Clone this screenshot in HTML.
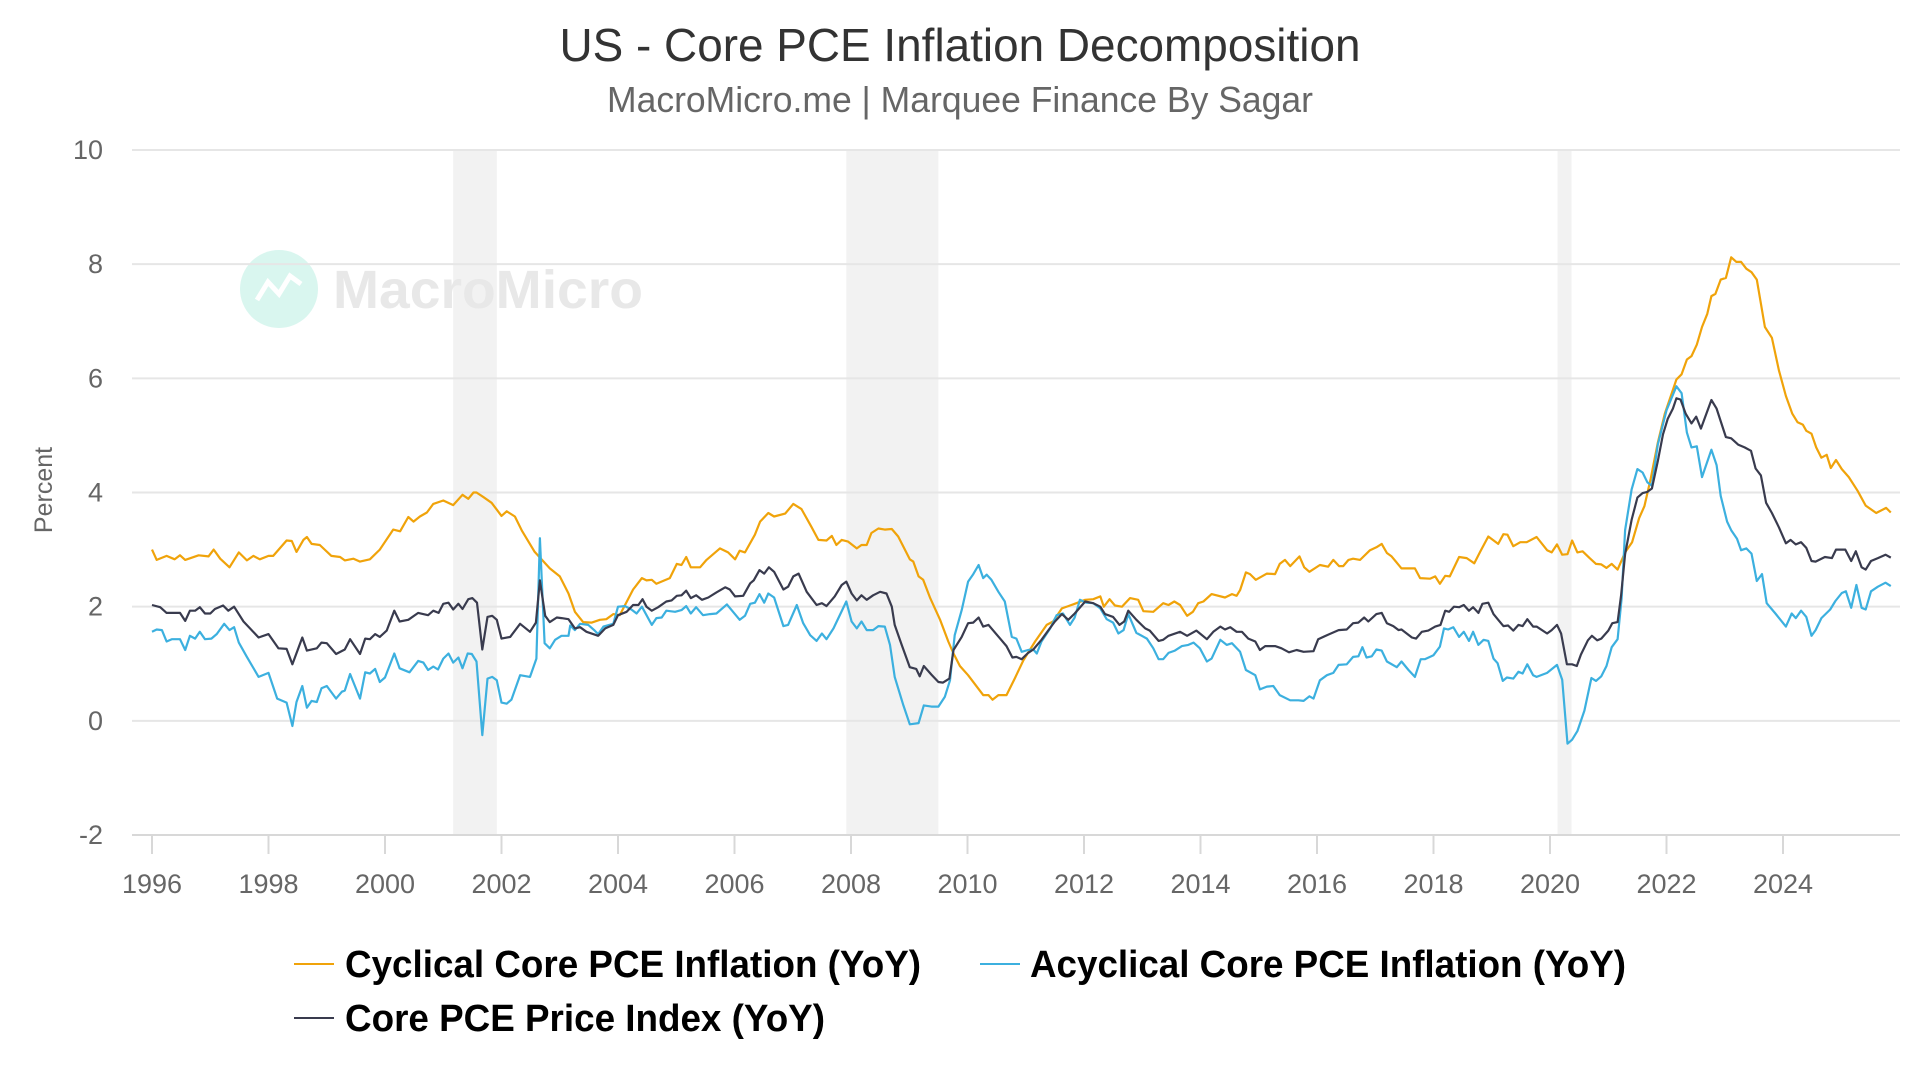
<!DOCTYPE html>
<html><head><meta charset="utf-8"><style>
html,body{margin:0;padding:0;background:#fff;width:1920px;height:1080px;overflow:hidden}
svg{display:block;font-family:"Liberation Sans",sans-serif}
</style></head><body>
<svg id="chart" width="1920" height="1080" viewBox="0 0 1920 1080" xmlns="http://www.w3.org/2000/svg">
<text x="960" y="61" text-anchor="middle" font-size="46" fill="#333" textLength="801" lengthAdjust="spacingAndGlyphs">US - Core PCE Inflation Decomposition</text>
<text x="960" y="112" text-anchor="middle" font-size="36" fill="#666" textLength="706" lengthAdjust="spacingAndGlyphs">MacroMicro.me | Marquee Finance By Sagar</text>
<g id="bands"></g>
<g>
<circle cx="279" cy="289" r="39" fill="#d9f6ef"/>
<polyline points="257,300 268,282 279,294 290,276 301,284" fill="none" stroke="#fff" stroke-width="5"/>
<text x="333" y="308" font-size="54" font-weight="bold" fill="#e8e8e8" textLength="310" lengthAdjust="spacingAndGlyphs">MacroMicro</text>
</g>
<g id="grid"></g>
<g id="xaxis"></g>
<g id="yaxis"></g>
<text transform="translate(52,490) rotate(-90)" text-anchor="middle" font-size="25" fill="#666">Percent</text>
<g id="series"></g>
<g>
<g><line x1="294" y1="964" x2="334" y2="964" stroke="#f0a30a" stroke-width="2"/><text x="345" y="977" font-size="38" font-weight="bold" fill="#000" textLength="576" lengthAdjust="spacingAndGlyphs">Cyclical Core PCE Inflation (YoY)</text></g>
<g><line x1="980" y1="964" x2="1020" y2="964" stroke="#3cb0df" stroke-width="2"/><text x="1030" y="977" font-size="38" font-weight="bold" fill="#000" textLength="596" lengthAdjust="spacingAndGlyphs">Acyclical Core PCE Inflation (YoY)</text></g>
<g><line x1="294" y1="1018" x2="334" y2="1018" stroke="#393b4e" stroke-width="2"/><text x="345" y="1031" font-size="38" font-weight="bold" fill="#000" textLength="480" lengthAdjust="spacingAndGlyphs">Core PCE Price Index (YoY)</text></g>
</g>
</svg>
<script>
const yTicks=[-2,0,2,4,6,8,10];
const yTickLabels=["-2","0","2","4","6","8","10"];
const xTicks=[1996,1998,2000,2002,2004,2006,2008,2010,2012,2014,2016,2018,2020,2022,2024];
const xTickLabels=["1996","1998","2000","2002","2004","2006","2008","2010","2012","2014","2016","2018","2020","2022","2024"];
const recessionStarts=[2001.17,2007.92,2020.13];
const recessionEnds=[2001.92,2009.5,2020.37];
const cycDates=[1996.00,1996.08,1996.25,1996.39,1996.48,1996.57,1996.80,1996.97,1997.06,1997.17,1997.33,1997.49,1997.63,1997.74,1997.85,1998.00,1998.08,1998.31,1998.40,1998.48,1998.60,1998.66,1998.74,1998.88,1999.08,1999.23,1999.31,1999.46,1999.57,1999.74,1999.91,2000.14,2000.26,2000.40,2000.49,2000.60,2000.72,2000.83,2001.00,2001.17,2001.33,2001.43,2001.52,2001.57,2001.69,2001.83,2002.00,2002.09,2002.23,2002.35,2002.57,2002.83,2003.00,2003.15,2003.26,2003.40,2003.55,2003.69,2003.80,2003.92,2004.03,
2004.26,2004.41,2004.49,2004.58,2004.66,2004.89,2005.01,2005.09,2005.17,2005.25,2005.41,2005.52,2005.75,2005.89,2006.01,2006.09,2006.18,2006.35,2006.44,2006.58,2006.68,2006.87,2007.01,2007.15,2007.32,2007.44,2007.58,2007.67,2007.75,2007.84,2007.95,2008.10,2008.18,2008.27,2008.35,2008.47,2008.58,2008.70,2008.81,2009.01,2009.07,2009.16,2009.24,2009.36,2009.53,2009.67,2009.76,2009.87,2010.01,2010.27,2010.36,2010.43,2010.53,2010.67,2010.81,2010.96,2011.16,2011.36,2011.47,2011.62,2011.73,2011.84,2012.02,2012.16,
2012.28,2012.34,2012.44,2012.53,2012.65,2012.79,2012.93,2013.02,2013.19,2013.36,2013.45,2013.55,2013.65,2013.77,2013.87,2013.96,2014.05,2014.19,2014.42,2014.54,2014.62,2014.68,2014.78,2014.85,2014.95,2015.14,2015.28,2015.36,2015.45,2015.54,2015.70,2015.78,2015.87,2016.05,2016.19,2016.28,2016.38,2016.45,2016.54,2016.62,2016.74,2016.91,2017.02,2017.11,2017.20,2017.28,2017.45,2017.68,2017.77,2017.94,2018.03,2018.11,2018.20,2018.28,2018.44,2018.57,2018.70,2018.80,2018.94,2019.11,2019.20,2019.27,2019.37,2019.49,2019.60,2019.77,
2019.95,2020.03,2020.12,2020.21,2020.30,2020.38,2020.47,2020.56,2020.68,2020.79,2020.88,2020.97,2021.06,2021.16,2021.29,2021.41,2021.53,2021.62,2021.73,2021.85,2021.97,2022.08,2022.17,2022.26,2022.35,2022.43,2022.52,2022.61,2022.70,2022.77,2022.84,2022.93,2023.02,2023.11,2023.20,2023.28,2023.37,2023.46,2023.55,2023.69,2023.81,2023.93,2024.05,2024.16,2024.25,2024.34,2024.40,2024.49,2024.57,2024.66,2024.75,2024.82,2024.91,2025.01,2025.13,2025.28,2025.42,2025.60,2025.77,2025.85];
const cycVals=[3.0,2.82,2.89,2.83,2.9,2.82,2.9,2.88,3.0,2.84,2.69,2.95,2.81,2.89,2.83,2.89,2.89,3.16,3.15,2.96,3.17,3.22,3.1,3.08,2.89,2.87,2.81,2.84,2.79,2.83,3.0,3.35,3.32,3.57,3.49,3.58,3.65,3.8,3.86,3.78,3.96,3.89,4.0,4.0,3.92,3.82,3.59,3.67,3.58,3.33,2.96,2.67,2.53,2.23,1.91,1.73,1.72,1.77,1.78,1.87,1.85,
2.3,2.5,2.46,2.47,2.4,2.5,2.75,2.73,2.87,2.69,2.69,2.82,3.02,2.95,2.83,2.98,2.95,3.26,3.49,3.64,3.58,3.63,3.8,3.71,3.4,3.17,3.16,3.24,3.08,3.17,3.14,3.02,3.08,3.08,3.29,3.37,3.35,3.36,3.23,2.83,2.79,2.53,2.47,2.15,1.77,1.39,1.18,0.96,0.8,0.45,0.45,0.37,0.45,0.45,0.74,1.06,1.39,1.68,1.74,1.97,2.01,2.05,2.12,2.13,
2.18,2.0,2.13,2.02,2.0,2.15,2.12,1.92,1.91,2.06,2.03,2.09,2.03,1.84,1.91,2.06,2.09,2.22,2.16,2.22,2.19,2.29,2.6,2.57,2.47,2.58,2.57,2.75,2.82,2.71,2.88,2.69,2.61,2.73,2.7,2.82,2.71,2.71,2.82,2.84,2.82,2.99,3.04,3.1,2.94,2.88,2.67,2.67,2.5,2.49,2.53,2.4,2.54,2.53,2.87,2.85,2.76,2.96,3.23,3.1,3.27,3.26,3.06,3.13,3.13,3.22,
2.99,2.95,3.09,2.91,2.92,3.16,2.95,2.97,2.85,2.75,2.74,2.68,2.75,2.65,2.95,3.13,3.55,3.76,4.25,4.87,5.38,5.71,5.98,6.07,6.33,6.39,6.59,6.9,7.13,7.44,7.48,7.73,7.76,8.12,8.04,8.04,7.92,7.86,7.73,6.9,6.71,6.14,5.69,5.38,5.23,5.19,5.08,5.03,4.79,4.61,4.66,4.43,4.57,4.41,4.27,4.03,3.77,3.64,3.73,3.65];
const acycDates=[1996.00,1996.08,1996.17,1996.25,1996.34,1996.48,1996.57,1996.65,1996.74,1996.82,1996.91,1997.02,1997.11,1997.24,1997.33,1997.41,1997.49,1997.63,1997.83,1998.00,1998.15,1998.31,1998.41,1998.48,1998.58,1998.66,1998.74,1998.83,1998.91,1999.00,1999.16,1999.26,1999.31,1999.40,1999.57,1999.66,1999.74,1999.83,1999.91,2000.00,2000.16,2000.25,2000.42,2000.57,2000.66,2000.74,2000.83,2000.91,2001.00,2001.09,2001.17,2001.26,2001.33,2001.42,2001.49,2001.57,2001.67,2001.76,2001.84,2001.92,2002.00,2002.09,2002.17,2002.32,2002.49,2002.60,2002.66,2002.74,2002.83,2002.92,2003.03,2003.15,2003.18,2003.26,2003.35,2003.49,2003.60,2003.66,2003.75,2003.92,2004.00,
2004.12,2004.23,2004.32,2004.41,2004.58,2004.66,2004.75,2004.83,2004.98,2005.09,2005.17,2005.25,2005.34,2005.46,2005.58,2005.69,2005.87,2006.09,2006.18,2006.27,2006.35,2006.43,2006.51,2006.58,2006.68,2006.84,2006.92,2007.07,2007.18,2007.30,2007.41,2007.50,2007.58,2007.70,2007.92,2008.01,2008.10,2008.18,2008.27,2008.38,2008.47,2008.58,2008.67,2008.75,2008.90,2009.01,2009.16,2009.25,2009.38,2009.50,2009.61,2009.70,2009.78,2009.90,2010.01,2010.10,2010.19,2010.27,2010.33,2010.41,2010.53,2010.64,2010.76,2010.84,2010.93,2011.04,2011.13,2011.19,2011.27,2011.42,2011.53,2011.64,2011.76,2011.84,2011.93,2012.04,2012.16,
2012.28,2012.39,2012.50,2012.59,2012.68,2012.76,2012.90,2013.08,2013.19,2013.28,2013.36,2013.45,2013.56,2013.68,2013.79,2013.88,2013.99,2014.11,2014.19,2014.34,2014.45,2014.54,2014.68,2014.78,2014.94,2015.02,2015.14,2015.25,2015.36,2015.54,2015.68,2015.77,2015.87,2015.94,2016.05,2016.17,2016.28,2016.37,2016.51,2016.62,2016.71,2016.78,2016.85,2016.94,2017.02,2017.11,2017.20,2017.37,2017.45,2017.57,2017.68,2017.78,2017.85,2018.00,2018.11,2018.18,2018.25,2018.34,2018.44,2018.52,2018.61,2018.68,2018.77,2018.86,2018.94,2019.03,2019.10,2019.19,2019.26,2019.37,2019.46,2019.53,2019.61,2019.71,2019.77,
2019.95,2020.12,2020.21,2020.30,2020.38,2020.47,2020.59,2020.71,2020.79,2020.88,2020.97,2021.06,2021.16,2021.23,2021.29,2021.40,2021.50,2021.59,2021.67,2021.75,2021.85,2022.00,2022.17,2022.26,2022.35,2022.43,2022.52,2022.61,2022.77,2022.86,2022.93,2023.04,2023.11,2023.21,2023.28,2023.37,2023.46,2023.55,2023.64,2023.72,2023.87,2024.05,2024.15,2024.22,2024.31,2024.40,2024.49,2024.56,2024.66,2024.81,2024.90,2025.01,2025.08,2025.17,2025.26,2025.35,2025.42,2025.51,2025.63,2025.76,2025.85];
const acycVals=[1.56,1.6,1.59,1.39,1.43,1.43,1.24,1.49,1.44,1.56,1.43,1.44,1.52,1.7,1.59,1.64,1.37,1.12,0.77,0.84,0.39,0.32,-0.09,0.33,0.61,0.23,0.35,0.33,0.57,0.61,0.39,0.51,0.53,0.82,0.39,0.85,0.83,0.91,0.68,0.76,1.18,0.92,0.85,1.05,1.02,0.89,0.95,0.9,1.09,1.18,1.02,1.11,0.92,1.18,1.17,1.04,-0.25,0.74,0.77,0.71,0.32,0.3,0.37,0.8,0.77,1.09,3.2,1.36,1.27,1.42,1.49,1.49,1.67,1.59,1.7,1.68,1.58,1.52,1.65,1.7,2.0,
2.01,1.95,1.88,2.0,1.68,1.8,1.81,1.93,1.91,1.94,2.01,1.88,1.99,1.85,1.87,1.88,2.04,1.77,1.84,2.05,2.07,2.22,2.07,2.23,2.16,1.66,1.68,2.03,1.71,1.5,1.4,1.53,1.43,1.62,2.09,1.74,1.62,1.74,1.59,1.59,1.66,1.65,1.33,0.77,0.27,-0.06,-0.04,0.27,0.25,0.25,0.42,0.71,1.5,1.94,2.44,2.57,2.73,2.5,2.56,2.47,2.26,2.09,1.47,1.44,1.21,1.24,1.25,1.18,1.39,1.62,1.85,1.88,1.68,1.81,2.12,2.07,2.06,
1.97,1.78,1.72,1.53,1.59,1.87,1.54,1.44,1.27,1.08,1.08,1.19,1.23,1.31,1.33,1.37,1.27,1.04,1.09,1.42,1.33,1.36,1.21,0.89,0.8,0.55,0.6,0.61,0.45,0.36,0.36,0.35,0.43,0.39,0.71,0.8,0.84,0.98,0.99,1.12,1.13,1.29,1.11,1.13,1.25,1.23,1.04,0.94,1.04,0.89,0.77,1.08,1.08,1.15,1.3,1.62,1.6,1.64,1.47,1.56,1.4,1.56,1.33,1.42,1.4,1.09,1.01,0.7,0.76,0.74,0.86,0.83,0.99,0.8,0.77,
0.84,0.98,0.72,-0.4,-0.33,-0.18,0.18,0.75,0.7,0.78,0.96,1.29,1.43,2.14,3.34,4.05,4.41,4.35,4.18,4.12,4.84,5.44,5.86,5.74,5.05,4.79,4.81,4.27,4.75,4.48,3.94,3.49,3.34,3.19,2.99,3.02,2.93,2.45,2.57,2.06,1.88,1.65,1.88,1.8,1.93,1.82,1.49,1.59,1.8,1.95,2.1,2.24,2.27,1.98,2.38,1.98,1.95,2.27,2.35,2.42,2.36];
const coreDates=[1996.00,1996.14,1996.25,1996.48,1996.57,1996.65,1996.74,1996.82,1996.91,1997.00,1997.08,1997.22,1997.31,1997.41,1997.57,1997.83,1998.00,1998.17,1998.31,1998.41,1998.58,1998.66,1998.83,1998.91,1999.00,1999.16,1999.31,1999.40,1999.57,1999.66,1999.74,1999.83,1999.91,2000.03,2000.16,2000.25,2000.40,2000.57,2000.74,2000.83,2000.92,2001.00,2001.09,2001.17,2001.26,2001.33,2001.43,2001.50,2001.58,2001.67,2001.76,2001.84,2001.92,2002.00,2002.15,2002.32,2002.49,2002.59,2002.66,2002.75,2002.83,2002.95,2003.03,2003.15,2003.26,2003.35,2003.46,2003.66,2003.78,2003.92,2004.00,
2004.15,2004.26,2004.35,2004.42,2004.49,2004.58,2004.69,2004.83,2004.92,2005.01,2005.09,2005.17,2005.25,2005.34,2005.44,2005.55,2005.69,2005.84,2005.92,2006.01,2006.15,2006.27,2006.33,2006.43,2006.51,2006.59,2006.68,2006.84,2006.92,2007.01,2007.10,2007.24,2007.41,2007.50,2007.58,2007.72,2007.84,2007.92,2008.01,2008.10,2008.18,2008.27,2008.38,2008.50,2008.61,2008.70,2008.75,2008.87,2009.01,2009.12,2009.18,2009.25,2009.38,2009.50,2009.58,2009.69,2009.76,2009.90,2010.01,2010.10,2010.19,2010.27,2010.36,2010.56,2010.67,2010.77,2010.84,2010.93,2011.04,2011.13,2011.27,2011.39,2011.50,2011.62,2011.73,2011.84,2012.02,2012.16,
2012.28,2012.36,2012.50,2012.61,2012.69,2012.76,2012.90,2013.05,2013.13,2013.28,2013.36,2013.45,2013.65,2013.77,2013.93,2014.11,2014.22,2014.34,2014.42,2014.51,2014.62,2014.71,2014.82,2014.94,2015.02,2015.11,2015.28,2015.39,2015.52,2015.65,2015.77,2015.94,2016.02,2016.17,2016.37,2016.51,2016.62,2016.71,2016.81,2016.88,2017.02,2017.11,2017.20,2017.31,2017.40,2017.45,2017.63,2017.70,2017.80,2017.91,2018.03,2018.12,2018.20,2018.27,2018.35,2018.44,2018.52,2018.61,2018.68,2018.77,2018.84,2018.94,2019.03,2019.11,2019.20,2019.28,2019.37,2019.46,2019.53,2019.61,2019.71,2019.77,
2019.95,2020.03,2020.12,2020.19,2020.29,2020.38,2020.46,2020.53,2020.65,2020.72,2020.81,2020.88,2021.00,2021.07,2021.16,2021.22,2021.29,2021.40,2021.50,2021.59,2021.67,2021.75,2021.85,2021.94,2022.02,2022.11,2022.17,2022.24,2022.33,2022.43,2022.51,2022.59,2022.77,2022.86,2023.02,2023.11,2023.23,2023.34,2023.45,2023.53,2023.62,2023.71,2023.81,2023.93,2024.05,2024.13,2024.22,2024.31,2024.40,2024.49,2024.56,2024.72,2024.84,2024.91,2025.07,2025.17,2025.25,2025.35,2025.42,2025.51,2025.63,2025.76,2025.85];
const coreVals=[2.03,1.99,1.89,1.89,1.75,1.93,1.93,1.99,1.88,1.88,1.96,2.02,1.93,2.0,1.74,1.46,1.52,1.27,1.26,0.99,1.46,1.23,1.27,1.37,1.36,1.17,1.25,1.43,1.17,1.44,1.43,1.52,1.47,1.58,1.93,1.74,1.77,1.89,1.85,1.93,1.89,2.05,2.07,1.95,2.05,1.96,2.13,2.15,2.07,1.25,1.82,1.84,1.77,1.44,1.47,1.7,1.56,1.72,2.46,1.84,1.73,1.81,1.8,1.78,1.62,1.64,1.56,1.49,1.62,1.68,1.85,
1.91,2.03,2.03,2.13,2.0,1.93,1.99,2.09,2.11,2.19,2.2,2.28,2.15,2.2,2.12,2.16,2.25,2.34,2.3,2.18,2.19,2.41,2.46,2.64,2.58,2.69,2.61,2.3,2.35,2.53,2.58,2.26,2.03,2.06,2.01,2.18,2.38,2.44,2.23,2.11,2.2,2.12,2.2,2.26,2.23,2.0,1.68,1.33,0.94,0.91,0.78,0.96,0.81,0.68,0.67,0.74,1.24,1.47,1.71,1.72,1.81,1.65,1.68,1.44,1.31,1.11,1.12,1.08,1.19,1.25,1.42,1.59,1.74,1.87,1.77,1.88,2.09,2.06,
2.0,1.87,1.82,1.68,1.74,1.93,1.77,1.62,1.58,1.4,1.42,1.49,1.56,1.49,1.58,1.43,1.56,1.65,1.6,1.64,1.56,1.56,1.44,1.39,1.24,1.31,1.31,1.27,1.2,1.24,1.21,1.22,1.43,1.5,1.59,1.6,1.71,1.72,1.81,1.74,1.87,1.89,1.71,1.66,1.59,1.6,1.46,1.44,1.56,1.58,1.65,1.68,1.93,1.91,2.0,1.99,2.03,1.93,1.99,1.89,2.05,2.07,1.87,1.77,1.66,1.67,1.58,1.68,1.66,1.78,1.65,1.65,
1.53,1.59,1.68,1.53,0.99,0.99,0.96,1.16,1.41,1.49,1.41,1.44,1.58,1.71,1.73,2.2,2.92,3.52,3.91,3.99,4.01,4.07,4.55,5.02,5.29,5.47,5.65,5.63,5.38,5.21,5.33,5.12,5.62,5.47,4.97,4.95,4.84,4.79,4.73,4.42,4.3,3.82,3.64,3.39,3.11,3.17,3.09,3.13,3.03,2.8,2.79,2.87,2.85,3.0,3.0,2.8,2.97,2.69,2.65,2.8,2.85,2.91,2.86];

const NS='http://www.w3.org/2000/svg';
const PL=132,PR=1900,PT=150,PB=835;
function xScale(y){return 152+(y-1996)*58.25;}
function yScale(v){return PB-(v-(-2))*(PB-PT)/12;}
function mk(tag,attrs,parent){const e=document.createElementNS(NS,tag);for(const k in attrs)e.setAttribute(k,attrs[k]);parent.appendChild(e);return e;}

const bands=document.getElementById('bands');
recessionStarts.forEach((s,i)=>{
  const r=mk('rect',{x:xScale(s),y:PT,width:xScale(recessionEnds[i])-xScale(s),height:PB-PT,fill:'#f2f2f2'},bands);
  
  
});
const grid=document.getElementById('grid'),yaxis=document.getElementById('yaxis');
yTicks.forEach((v,i)=>{
  if(v!==-2){
    const l=mk('line',{x1:PL,x2:PR,y1:yScale(v),y2:yScale(v),stroke:'#e6e6e6','stroke-width':2},grid);
    
    
  }
  const t=mk('text',{x:103,y:yScale(v)+9,'text-anchor':'end','font-size':27,fill:'#666'},yaxis);
  
  
  t.textContent=yTickLabels[i];
});
const xaxis=document.getElementById('xaxis');
const ax=mk('line',{x1:PL,x2:PR,y1:PB,y2:PB,stroke:'#d8d8d8','stroke-width':2},xaxis);


xTicks.forEach((y,i)=>{
  const tk=mk('line',{x1:xScale(y),x2:xScale(y),y1:PB,y2:PB+19,stroke:'#d8d8d8','stroke-width':2},xaxis);
  
  
  const t=mk('text',{x:xScale(y),y:893,'text-anchor':'middle','font-size':27,fill:'#666'},xaxis);
  
  
  t.textContent=xTickLabels[i];
});
const series=document.getElementById('series');
function drawLine(dates,vals,color,name){
  const pts=dates.map((d,i)=>xScale(d).toFixed(1)+','+yScale(vals[i]).toFixed(1)).join(' ');
  const p=mk('polyline',{points:pts,fill:'none',stroke:color,'stroke-width':2.2,'stroke-linejoin':'round'},series);
  
  
}
drawLine(cycDates,cycVals,'#f0a30a','cyclical-core-pce-line');
drawLine(acycDates,acycVals,'#3cb0df','acyclical-core-pce-line');
drawLine(coreDates,coreVals,'#393b4e','core-pce-price-index-line');
</script>
</body></html>
